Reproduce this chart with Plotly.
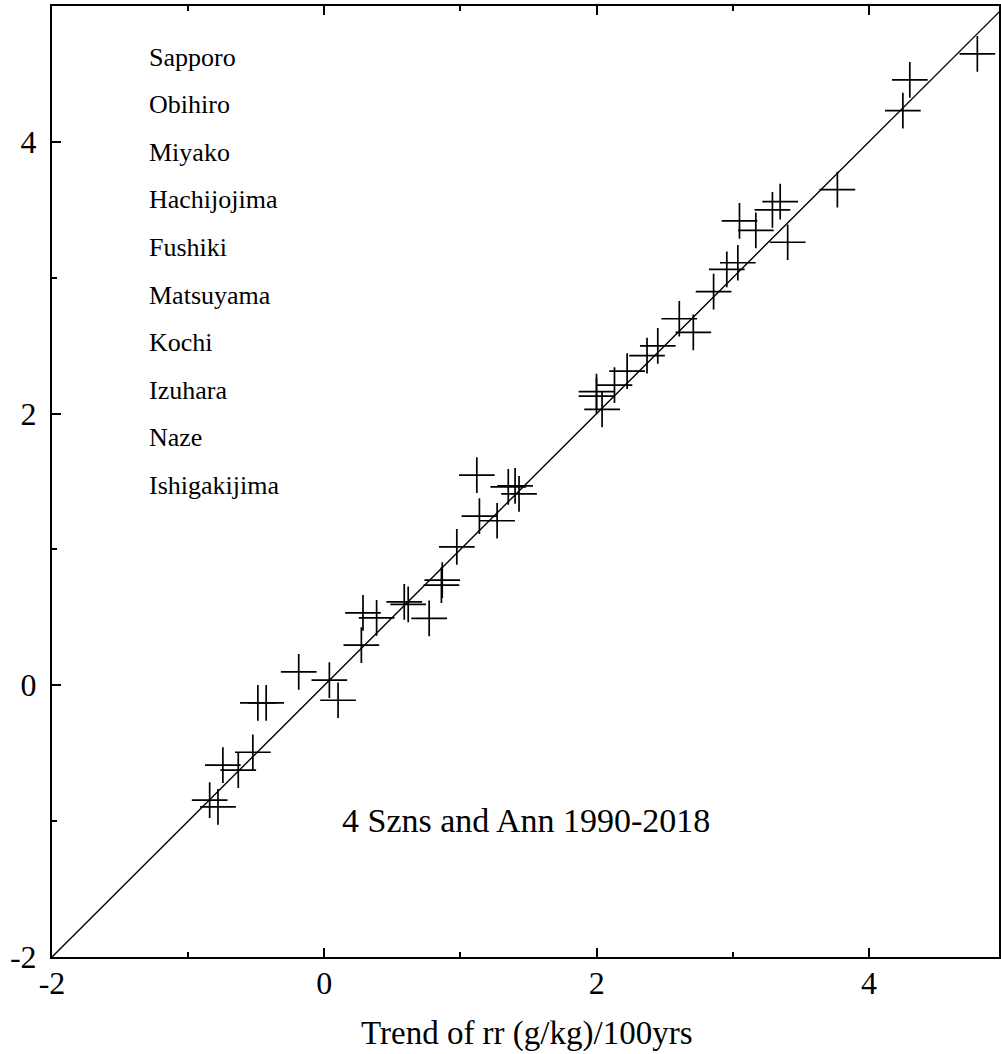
import plotly.graph_objects as go

trend_x = [4.796, 4.300, 4.249, 3.768, 3.348, 3.291, 3.049, 3.169, 3.403, 3.037,
           2.956, 2.859, 2.607, 2.710, 2.449, 2.370, 2.224, 2.131, 1.999, 1.999,
           2.040, 1.120, 1.351, 1.401, 1.430, 1.139, 1.269, 0.973, 0.866, 0.860,
           0.587, 0.616, 0.770, 0.284, 0.384, 0.272, -0.188, 0.037, 0.101, -0.488,
           -0.427, -0.525, -0.745, -0.632, -0.842, -0.781]
trend_y = [4.647, 4.456, 4.230, 3.648, 3.560, 3.499, 3.418, 3.349, 3.261, 3.110,
           3.062, 2.897, 2.698, 2.598, 2.499, 2.426, 2.313, 2.210, 2.161, 2.129,
           2.031, 1.547, 1.461, 1.468, 1.409, 1.245, 1.211, 1.019, 0.774, 0.737,
           0.614, 0.595, 0.492, 0.533, 0.496, 0.295, 0.099, 0.038, -0.110, -0.130,
           -0.130, -0.493, -0.588, -0.625, -0.846, -0.895]

diag_x = [-2, 5]
diag_y = [-2, 5]

stations = ["Sapporo", "Obihiro", "Miyako", "Hachijojima", "Fushiki",
            "Matsuyama", "Kochi", "Izuhara", "Naze", "Ishigakijima"]

tick_vals = [-2, 0, 2, 4]
tick_text = ["-2", "0", "2", "4"]
minor_vals = [-1, 1, 3]

title_text = "4 Szns and Ann 1990-2018"
xaxis_title = "Trend of rr (g/kg)/100yrs"

FONT = "Liberation Serif"

fig = go.Figure()
fig.add_trace(go.Scatter(x=diag_x, y=diag_y, mode="lines",
                         line=dict(color="black", width=1.4),
                         hoverinfo="skip", showlegend=False))
fig.add_trace(go.Scatter(x=trend_x, y=trend_y, mode="markers",
                         marker=dict(symbol="cross-thin", size=25.5, color="black",
                                     line=dict(width=1.7, color="black")),
                         showlegend=False))

W, H = 1001, 1054
ml, mr, mt, mb = 52, 0, 6, 97
plot_h = H - mt - mb
plot_w = W - ml - mr

annotations = []
for i, name in enumerate(stations):
    ypx = 57 + i * 47.6
    annotations.append(dict(
        text=name, xref="paper", yref="paper",
        x=(147 - ml) / plot_w, y=(mt + plot_h - ypx) / plot_h,
        xanchor="left", yanchor="middle", showarrow=False,
        font=dict(family=FONT, size=26, color="black")))

annotations.append(dict(
    text=title_text, xref="paper", yref="paper",
    x=0.5, y=(mt + plot_h - 820) / plot_h,
    xanchor="center", yanchor="middle", showarrow=False,
    font=dict(family=FONT, size=34, color="black")))

annotations.append(dict(
    text=xaxis_title, xref="paper", yref="paper",
    x=0.502, y=(mt + plot_h - 1033) / plot_h,
    xanchor="center", yanchor="middle", showarrow=False,
    font=dict(family=FONT, size=33, color="black")))

axis_common = dict(
    tickvals=tick_vals, ticktext=tick_text,
    ticks="inside", ticklen=9, tickwidth=1.5, tickcolor="black",
    minor=dict(tickvals=minor_vals, ticks="inside", ticklen=5,
               tickwidth=1.5, tickcolor="black"),
    showline=True, linewidth=2, linecolor="black",
    showgrid=False, zeroline=False,
    tickfont=dict(family=FONT, size=32, color="black"),
)

fig.update_layout(
    width=W, height=H,
    margin=dict(l=ml, r=mr, t=mt, b=mb, pad=0),
    paper_bgcolor="white", plot_bgcolor="white",
    font=dict(family=FONT, color="black"),
    xaxis=dict(range=[-2, 4.955], mirror="ticks", ticklabelstandoff=-3,
               **axis_common),
    yaxis=dict(range=[-2, 5], mirror=True, ticklabelstandoff=7,
               **axis_common),
    annotations=annotations,
    showlegend=False,
)

fig.write_html("out.html")
